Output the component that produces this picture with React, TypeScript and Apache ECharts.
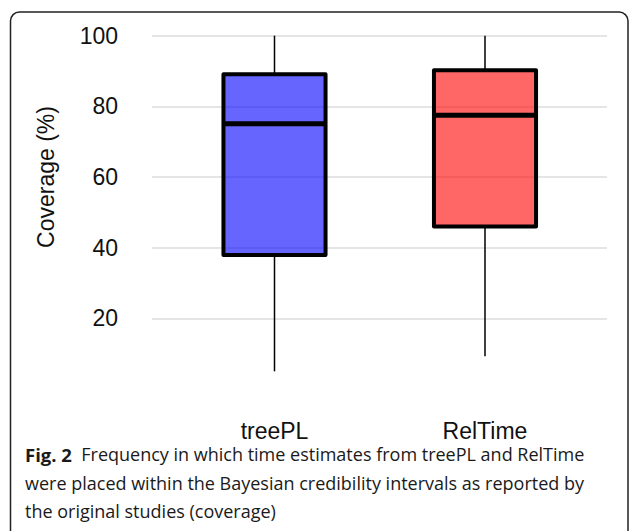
import React, { useEffect, useRef } from "react";
import * as echarts from "echarts";

const categories = ["treePL", "RelTime"];
const whiskerLow = [5, 9.3];
const q1 = [37.9, 46.0];
const median = [75.1, 77.5];
const q3 = [89.1, 90.2];
const whiskerHigh = [100, 100];
const fills = ["rgba(0,0,255,0.6)", "rgba(255,0,0,0.6)"];
const yTicks = [20, 40, 60, 80, 100];
const yTitle = "Coverage (%)";
const captionBold = "Fig. 2";
const captionText =
  "  Frequency in which time estimates from treePL and RelTime\nwere placed within the Bayesian credibility intervals as reported by\nthe original studies (coverage)";

export default function App() {
  const ref = useRef<HTMLDivElement>(null);
  useEffect(() => {
    if (!ref.current) return;
    const chart = echarts.init(ref.current, null, { renderer: "svg" });
    const boxData = categories.map((c, i) => [i, whiskerLow[i], q1[i], median[i], q3[i], whiskerHigh[i]]);
    const option: any = {
      animation: false,
      backgroundColor: "#fff",
      grid: [
        { left: 152, right: 22, top: 18, bottom: 142 },
        { left: 169.25, right: 38.75, top: 18, bottom: 142 },
      ],
      xAxis: [
        { gridIndex: 0, type: "value", min: 0, max: 1, show: false },
        {
          gridIndex: 1,
          type: "category",
          data: categories,
          axisLine: { show: false },
          axisTick: { show: false },
          axisLabel: { fontSize: 23, fontFamily: "Liberation Sans", color: "#111", margin: 30 },
        },
      ],
      yAxis: [
        {
          gridIndex: 0,
          type: "value",
          min: 0,
          max: 105,
          interval: 20,
          axisLine: { show: false },
          axisTick: { show: false },
          axisLabel: {
            fontSize: 23,
            fontFamily: "Liberation Sans",
            color: "#111",
            margin: 34,
            formatter: (v: number) => (yTicks.indexOf(v) >= 0 ? String(v) : ""),
          },
          splitLine: {
            show: true,
            lineStyle: {
              width: 1.5,
              color: ["rgba(0,0,0,0)", "#dcdcdc", "#dcdcdc", "#dcdcdc", "#dcdcdc", "#dcdcdc", "rgba(0,0,0,0)"],
            },
          },
        },
        { gridIndex: 1, type: "value", min: 0, max: 105, show: false },
      ],
      series: [
        {
          type: "custom",
          xAxisIndex: 1,
          yAxisIndex: 1,
          data: boxData,
          encode: { x: 0, y: [1, 2, 3, 4, 5] },
          renderItem: (params: any, api: any) => {
            const i = api.value(0);
            const band = api.size([1, 0])[0];
            const w = band * 0.485;
            const pLow = api.coord([i, api.value(1)]);
            const pQ1 = api.coord([i, api.value(2)]);
            const pMed = api.coord([i, api.value(3)]);
            const pQ3 = api.coord([i, api.value(4)]);
            const pHigh = api.coord([i, api.value(5)]);
            const cx = pMed[0];
            return {
              type: "group",
              children: [
                {
                  type: "line",
                  shape: { x1: cx, y1: pHigh[1], x2: cx, y2: pQ3[1] },
                  style: { stroke: "#000", lineWidth: 1.5 },
                },
                {
                  type: "line",
                  shape: { x1: cx, y1: pQ1[1], x2: cx, y2: pLow[1] },
                  style: { stroke: "#000", lineWidth: 1.5 },
                },
                {
                  type: "rect",
                  shape: { x: cx - w / 2, y: pQ3[1], width: w, height: pQ1[1] - pQ3[1] },
                  style: { fill: fills[i], stroke: "#000", lineWidth: 4, lineJoin: "round" },
                },
                {
                  type: "line",
                  shape: { x1: cx - w / 2, y1: pMed[1], x2: cx + w / 2, y2: pMed[1] },
                  style: { stroke: "#000", lineWidth: 5 },
                },
              ],
            };
          },
        },
      ],
      graphic: [
        {
          type: "rect",
          shape: { x: 10.5, y: 12, width: 617.5, height: 600, r: 9 },
          style: { fill: "none", stroke: "#222", lineWidth: 1.5 },
          silent: true,
        },
        {
          type: "text",
          x: 46,
          y: 177,
          rotation: Math.PI / 2,
          style: {
            text: yTitle,
            fontSize: 23,
            fontFamily: "Liberation Sans",
            fill: "#111",
            align: "center",
            verticalAlign: "middle",
          },
        },
        {
          type: "text",
          x: 25,
          y: 440,
          style: {
            text: "{b|" + captionBold + "}{r|" + captionText + "}",
            fontFamily: "Open Sans",
            fontSize: 18,
            lineHeight: 28.5,
            fill: "#1a1a1a",
            rich: {
              b: { fontFamily: "Open Sans", fontWeight: "bold", fontSize: 18.5, lineHeight: 28.5, fill: "#1a1a1a" },
              r: { fontFamily: "Open Sans", fontSize: 18, lineHeight: 28.5, fill: "#1a1a1a" },
            },
          },
        },
      ],
    };
    chart.setOption(option);
    return () => chart.dispose();
  }, []);
  return (
    <div
      ref={ref}
      style={{ position: "fixed", left: 0, top: 0, width: 629, height: 531 }}
    />
  );
}
